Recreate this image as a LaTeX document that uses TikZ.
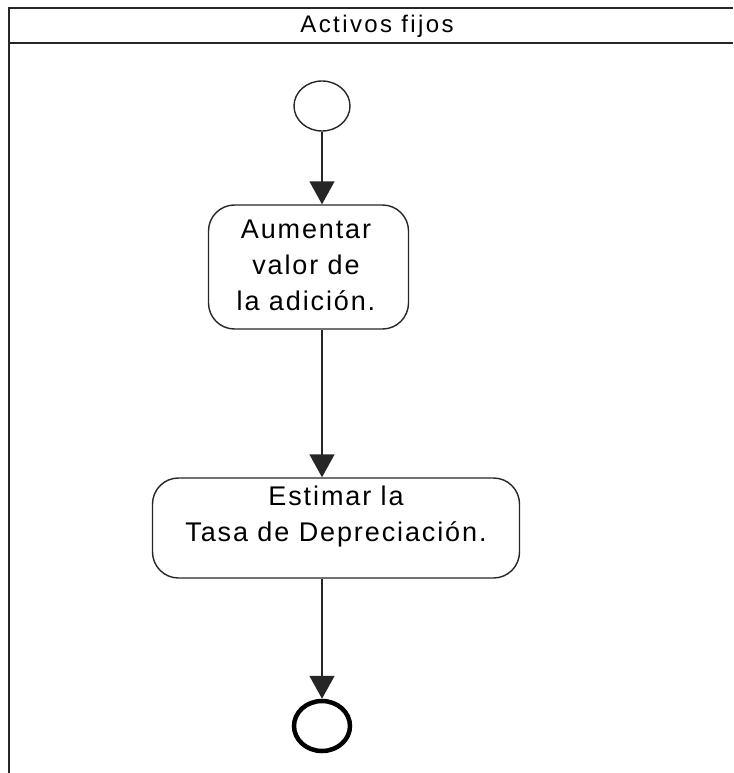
\documentclass[tikz,border=0pt]{standalone}
\usepackage{fontspec}
\newfontfamily\titlefont[LetterSpace=10]{Liberation Sans}
\newfontfamily\diagfont[LetterSpace=7]{Liberation Sans}
\usetikzlibrary{arrows.meta,shapes.geometric}
\tikzset{
  frameline/.style={line width=1.8pt, draw=black!85},
  actbox/.style={draw=black!85, line width=1.4pt, rounded corners=26pt, inner sep=0pt},
  acttext/.style={font=\diagfont\fontsize{27}{36}\selectfont, align=center, inner sep=0pt},
  titletext/.style={font=\titlefont\fontsize{24}{30}\selectfont, inner sep=0pt},
  startnode/.style={draw=black!85, ellipse, line width=1.4pt, minimum width=56pt, minimum height=50pt, inner sep=0pt},
  endnode/.style={draw=black, ellipse, line width=4.5pt, minimum width=56pt, minimum height=50pt, inner sep=0pt},
  flow/.style={draw=black!85, line width=1.4pt, -{Triangle[width=25pt,length=23pt]}}
}
\begin{document}
\begin{tikzpicture}[x=1pt,y=-1pt]
\useasboundingbox (0,0) rectangle (733,773);
% swimlane frame
\draw[frameline] (9,773) -- (9,8) -- (733,8);
\draw[frameline] (9,43) -- (733,43);
\node[titletext] (title) at (377,26) {Activos fijos};
% nodes
\node[startnode] (start) at (322,106) {};
\node[actbox, minimum width=200pt, minimum height=124pt] (b1) at (308.5,267) {};
\node[acttext] (b1t) at (306,265) {Aumentar\\ valor de\\la adición.};
\node[actbox, minimum width=367pt, minimum height=100pt] (b2) at (336,528) {};
\node[acttext] (b2t) at (336,517) {Estimar la\\Tasa de Depreciación.};
\node[endnode] (end) at (322,726) {};
% connectors
\draw[flow] (start) -- (start |- b1.north);
\draw[flow] (start |- b1.south) -- (start |- b2.north);
\draw[flow] (end |- b2.south) -- (end);
\end{tikzpicture}
\end{document}
